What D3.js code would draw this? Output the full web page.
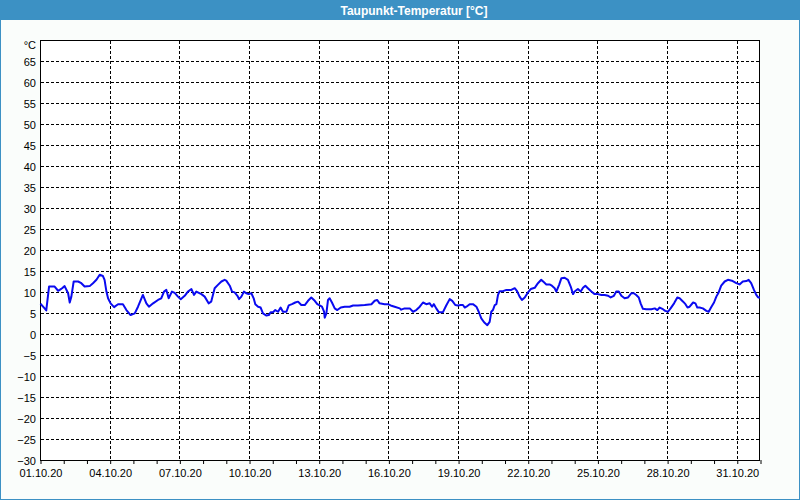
<!DOCTYPE html>
<html><head><meta charset="utf-8">
<script src="https://cdn.jsdelivr.net/npm/d3@7"></script>
<style>body{margin:0;background:#fafdfb}svg{display:block}</style>
</head><body><svg id="c" width="800" height="500"></svg>
<script>
// Days since 01.10.2020 00:00 (UTC) and dew point in °C
const dayOffsets = [0.02,0.20,0.27,0.39,0.63,0.78,0.85,0.95,1.06,1.21,1.28,1.35,1.45,1.64,1.78,1.92,2.14,2.28,2.43,2.57,2.71,2.78,2.86,2.93,3.04,3.19,3.36,3.57,3.72,3.90,4.08,4.22,4.43,4.58,4.69,4.87,5.08,5.22,5.34,5.44,5.54,5.68,5.80,5.94,6.06,6.23,6.37,6.52,6.63,6.73,6.95,7.09,7.26,7.37,7.52,7.66,
7.81,7.95,8.02,8.17,8.27,8.38,8.50,8.57,8.67,8.78,8.88,8.98,9.10,9.20,9.27,9.39,9.50,9.60,9.75,9.85,9.93,10.03,10.13,10.25,10.36,10.46,10.61,10.71,10.85,10.99,11.11,11.25,11.40,11.54,11.68,11.83,11.94,12.04,12.14,12.23,12.26,12.33,12.40,12.47,12.57,12.69,12.80,12.95,13.12,13.33,13.48,13.69,13.98,14.27,14.41,14.52,14.62,14.84,14.98,15.10,15.27,15.49,
15.55,15.70,15.92,16.06,16.20,16.35,16.49,16.63,16.78,16.88,16.96,17.06,17.17,17.35,17.49,17.64,17.75,17.88,18.00,18.11,18.21,18.29,18.36,18.50,18.64,18.79,18.89,19.00,19.12,19.26,19.36,19.43,19.50,19.58,19.65,19.72,19.79,19.93,20.08,20.29,20.44,20.54,20.65,20.75,20.87,21.01,21.13,21.30,21.44,21.58,21.70,21.80,21.94,22.04,22.16,22.23,22.35,22.45,22.59,22.73,22.85,22.95,23.02,
23.16,23.28,23.38,23.48,23.59,23.74,23.88,24.02,24.17,24.31,24.46,24.57,24.71,24.81,24.92,25.03,25.17,25.32,25.46,25.57,25.67,25.78,25.86,25.96,26.10,26.32,26.47,26.58,26.68,26.82,26.92,27.04,27.15,27.30,27.44,27.54,27.69,27.79,27.88,27.97,28.12,28.22,28.30,28.40,28.54,28.69,28.79,28.91,29.02,29.12,29.22,29.33,29.48,29.62,29.79,29.98,30.12,30.26,30.41,30.51,30.62,30.74,30.84,30.92,31.00];
const dewPoint = [7.2,6.1,5.6,11.3,11.3,10.3,10.5,10.9,11.4,9.7,7.5,8.9,12.5,12.5,12.1,11.3,11.4,12.1,12.9,14.1,13.8,12.9,10.1,8.5,7.3,6.4,7.1,7.1,5.7,4.5,4.9,6.5,9.3,7.3,6.5,7.3,8.1,8.5,10.1,10.5,8.5,10.1,9.8,8.9,8.3,9.1,10.1,10.7,9.3,10.1,9.5,8.9,7.3,7.7,10.9,11.7,
12.5,12.9,12.7,11.5,10.1,9.9,9.1,8.3,8.9,10.1,9.7,9.5,9.7,8.5,7.1,6.5,6.3,4.9,4.4,4.5,5.2,5.2,5.7,5.3,6.3,5.3,5.3,6.8,7.1,7.5,7.7,6.9,6.9,7.9,8.7,7.9,7.1,6.8,6.5,5.3,3.9,4.9,8.1,8.5,7.5,6.1,5.7,6.3,6.5,6.5,6.8,6.8,6.9,7.1,7.9,8.1,7.3,7.1,7.1,6.8,6.5,6.1,
5.8,6.1,6.1,5.3,5.7,6.5,7.5,7.1,7.3,6.5,7.1,6.1,5.2,5.2,6.8,8.3,7.9,6.9,6.8,6.9,6.9,6.3,6.5,7.1,7.1,6.5,5.3,3.7,2.8,2.1,2.9,5.3,5.7,6.9,7.1,9.3,10.2,10.2,10.5,10.5,10.9,10.2,8.9,8.1,8.7,9.9,10.7,11.0,12.1,12.9,12.3,11.8,11.8,11.5,10.9,10.1,11.7,13.3,13.4,12.9,11.3,9.5,10.1,
10.7,10.1,11.0,11.5,10.9,10.1,9.5,9.5,9.3,9.3,9.1,8.7,9.1,10.1,10.1,9.1,8.5,8.7,9.7,9.7,9.3,8.7,7.3,6.0,5.9,5.9,6.1,5.7,6.3,5.9,5.5,5.3,6.1,7.3,8.7,8.5,7.7,7.1,6.3,6.5,7.5,7.3,6.3,6.3,6.1,5.5,5.3,6.5,7.5,8.9,9.9,11.5,12.5,12.9,12.7,12.1,11.8,12.5,12.6,12.9,12.1,10.5,9.3,8.7,8.7];
const yTickValues = [-30,-25,-20,-15,-10,-5,0,5,10,15,20,25,30,35,40,45,50,55,60,65];
const labelDays = ["01.10.20","04.10.20","07.10.20","10.10.20","13.10.20","16.10.20","19.10.20","22.10.20","25.10.20","28.10.20","31.10.20"];
const titleText = "Taupunkt-Temperatur [°C]";
const unitText = "°C";

const W = 800, H = 500;
const L = 40, R = 760, T = 40, B = 460;
const DAY = 86400000;
const t0 = Date.UTC(2020, 9, 1), t1 = Date.UTC(2020, 10, 1);

const svg = d3.select("#c");
const font = "'Liberation Sans', Arial, sans-serif";

svg.append("rect").attr("x",0).attr("y",0).attr("width",W).attr("height",H).attr("fill","#fafdfb");
svg.append("rect").attr("x",0).attr("y",0).attr("width",W).attr("height",20).attr("fill","#3c91c4");
svg.append("rect").attr("x",0.5).attr("y",0.5).attr("width",W-1).attr("height",H-1)
  .attr("fill","none").attr("stroke","#3c91c4").attr("stroke-width",1);
svg.append("text").attr("x",414).attr("y",14.5).attr("text-anchor","middle")
  .attr("fill","#ffffff").attr("font-family",font).attr("font-weight","bold").attr("font-size","12px")
  .text(titleText);

const x = d3.scaleUtc().domain([new Date(t0), new Date(t1)]).range([L, R]);
const y = d3.scaleLinear().domain([-30, 70]).range([B, T]);

svg.append("rect").attr("x",L).attr("y",T).attr("width",R-L).attr("height",B-T).attr("fill","#ffffff");

// grid
const hGrid = yTickValues.filter(v => v > -30);
svg.append("g").selectAll("line").data(hGrid).join("line")
  .attr("x1", L+1).attr("x2", R).attr("y1", d => Math.round(y(d))+0.5).attr("y2", d => Math.round(y(d))+0.5)
  .attr("stroke","#000").attr("stroke-width",1).attr("stroke-dasharray","3,2");
const labelDates = labelDays.map(s => { const p = s.split("."); return new Date(Date.UTC(2000+ +p[2], +p[1]-1, +p[0])); });
svg.append("g").selectAll("line").data(labelDates.slice(1)).join("line")
  .attr("y1", T+1).attr("y2", B).attr("x1", d => Math.round(x(d))+0.5).attr("x2", d => Math.round(x(d))+0.5)
  .attr("stroke","#000").attr("stroke-width",1).attr("stroke-dasharray","3,2");

// x axis
const dayTicks = d3.utcDay.range(new Date(t0), new Date(t1 + 1));
const labelSet = new Set(labelDates.map(d => +d));
const xAxis = d3.axisBottom(x).tickValues(dayTicks).tickSize(4).tickPadding(5)
  .tickFormat(d => labelSet.has(+d) ? labelDays[labelDates.findIndex(e => +e === +d)] : "");
const gx = svg.append("g").attr("transform", `translate(0.5,${B})`).call(xAxis);
gx.select(".domain").remove();
gx.selectAll("line").attr("stroke","#000");
gx.selectAll("text").attr("font-family",font).attr("font-size","11px").attr("fill","#000");

// y axis
const yAxis = d3.axisLeft(y).tickValues(yTickValues).tickSize(0).tickPadding(4);
const gy = svg.append("g").attr("transform", `translate(${L},0.5)`).call(yAxis);
gy.select(".domain").remove();
gy.selectAll("text").attr("font-family",font).attr("font-size","11px").attr("fill","#000");
svg.append("text").attr("x", L-4).attr("y", 49).attr("text-anchor","end")
  .attr("font-family",font).attr("font-size","11px").attr("fill","#000").text(unitText);

// frame
svg.append("rect").attr("x",L+0.5).attr("y",T+0.5).attr("width",R-L-1).attr("height",B-T)
  .attr("fill","none").attr("stroke","#000").attr("stroke-width",1);

// line
const pts = dayOffsets.map((d,i) => ({t: new Date(t0 + d*DAY), v: dewPoint[i]}));
svg.append("path").datum(pts)
  .attr("d", d3.line().x(d => x(d.t)).y(d => y(d.v)))
  .attr("fill","none").attr("stroke","#0a0af0").attr("stroke-width",2).attr("stroke-linejoin","round");
</script></body></html>
